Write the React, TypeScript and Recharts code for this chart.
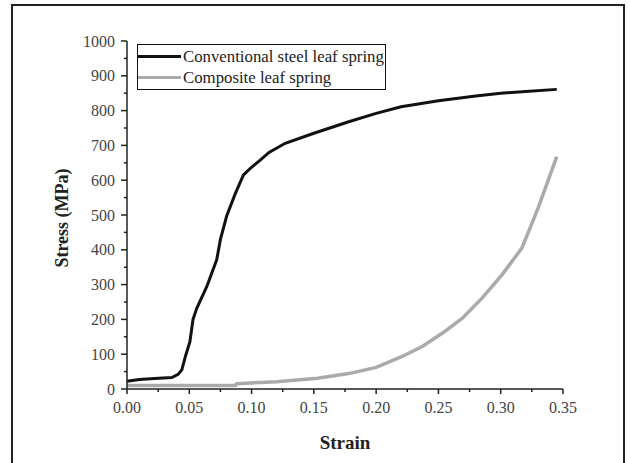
import React from 'react'
import { LineChart, Line, XAxis, YAxis } from 'recharts'

// conventional steel leaf spring (strain, stress MPa)
const steelStrain = [0, 0.01, 0.022, 0.036, 0.041, 0.044, 0.047, 0.0505, 0.053, 0.056, 0.064, 0.072, 0.075, 0.08, 0.087, 0.0935, 0.099, 0.106, 0.114, 0.127, 0.15, 0.178, 0.2, 0.22, 0.25, 0.28, 0.3, 0.32, 0.345]
const steelStress = [22, 27, 30, 33, 42, 55, 95, 136, 200, 232, 294, 371, 430, 497, 562, 615, 634, 655, 680, 706, 735, 768, 792, 811, 828, 842, 850, 855, 861]

// composite leaf spring
const compStrain = [0, 0.087, 0.088, 0.12, 0.153, 0.179, 0.2, 0.22, 0.237, 0.253, 0.269, 0.285, 0.301, 0.317, 0.33, 0.345]
const compStress = [10, 10, 15, 21, 31, 45, 62, 92, 122, 160, 203, 261, 328, 405, 520, 668]

const xTicks = [0, 0.025, 0.05, 0.075, 0.1, 0.125, 0.15, 0.175, 0.2, 0.225, 0.25, 0.275, 0.3, 0.325, 0.35]
const yTicks = [0, 50, 100, 150, 200, 250, 300, 350, 400, 450, 500, 550, 600, 650, 700, 750, 800, 850, 900, 950, 1000]

const steelData = steelStrain.map((s, i) => ({ strain: s, stress: steelStress[i] }))
const compData = compStrain.map((s, i) => ({ strain: s, stress: compStress[i] }))

const series = [
  { name: 'Conventional steel leaf spring', color: '#111', width: 3, data: steelData },
  { name: 'Composite leaf spring', color: '#aaa', width: 3.5, data: compData },
]

const FONT = '"Liberation Serif", "Times New Roman", serif'

const XTick = (props: any) => {
  const { x, y, payload } = props
  const major = Math.round(payload.value * 1000) % 50 === 0
  return (
    <g>
      <line x1={x} x2={x} y1={y} y2={y + (major ? 5 : 3)} stroke="#222" strokeWidth={1.5} />
      {major && (
        <text x={x} y={y + 24} textAnchor="middle" fontSize={16} fontFamily={FONT} fill="#444">
          {payload.value.toFixed(2)}
        </text>
      )}
    </g>
  )
}

const YTick = (props: any) => {
  const { x, y, payload } = props
  const major = payload.value % 100 === 0
  return (
    <g>
      <line x1={x} x2={x - (major ? 6 : 3)} y1={y} y2={y} stroke="#222" strokeWidth={1.5} />
      {major && (
        <text x={x - 12} y={y} dy="0.35em" textAnchor="end" fontSize={16} fontFamily={FONT} fill="#444">
          {payload.value}
        </text>
      )}
    </g>
  )
}

export default function App() {
  return (
    <div style={{ position: 'relative', width: 630, height: 463, overflow: 'hidden', background: '#fff' }}>
      <style>{'body{margin:0}'}</style>
      <div style={{ position: 'absolute', left: 11, top: 4, width: 614, height: 480, border: '2px solid #222', boxSizing: 'border-box' }} />
      <LineChart width={630} height={463} margin={{ top: 41, right: 67, left: 0, bottom: 14 }}>
        <XAxis
          dataKey="strain"
          type="number"
          domain={[0, 0.35]}
          ticks={xTicks}
          interval={0}
          height={60}
          tickSize={0}
          tickMargin={0}
          tickLine={false}
          axisLine={{ stroke: '#222', strokeWidth: 1.5 }}
          tick={<XTick />}
          label={{
            content: () => (
              <text x={345} y={449} textAnchor="middle" fontSize={19} fontWeight="bold" fontFamily={FONT} fill="#222">
                Strain
              </text>
            ),
          }}
        />
        <YAxis
          type="number"
          domain={[0, 1000]}
          ticks={yTicks}
          interval={0}
          width={127}
          tickSize={0}
          tickMargin={0}
          tickLine={false}
          axisLine={{ stroke: '#222', strokeWidth: 1.5 }}
          tick={<YTick />}
          label={{
            content: () => (
              <text x={62} y={218} transform="rotate(-90 62 218)" dy="0.35em" textAnchor="middle" fontSize={18} fontWeight="bold" fontFamily={FONT} fill="#222">
                Stress (MPa)
              </text>
            ),
          }}
        />
        {series.map((s) => (
          <Line
            key={s.name}
            data={s.data}
            dataKey="stress"
            name={s.name}
            type="linear"
            stroke={s.color}
            strokeWidth={s.width}
            dot={false}
            isAnimationActive={false}
          />
        ))}
      </LineChart>
      {/* legend box */}
      <div
        style={{
          position: 'absolute',
          left: 137,
          top: 44,
          width: 249,
          height: 46,
          border: '1.5px solid #111',
          boxSizing: 'border-box',
          background: '#fff',
          paddingTop: 1,
        }}
      >
        {series.map((s) => (
          <div key={s.name} style={{ display: 'flex', alignItems: 'center', height: 21 }}>
            <div style={{ width: 43, height: 3, background: s.color }} />
            <span style={{ fontFamily: FONT, fontSize: 16.8, color: '#222', marginLeft: 2, lineHeight: '21px', whiteSpace: 'nowrap' }}>
              {s.name}
            </span>
          </div>
        ))}
      </div>
    </div>
  )
}
